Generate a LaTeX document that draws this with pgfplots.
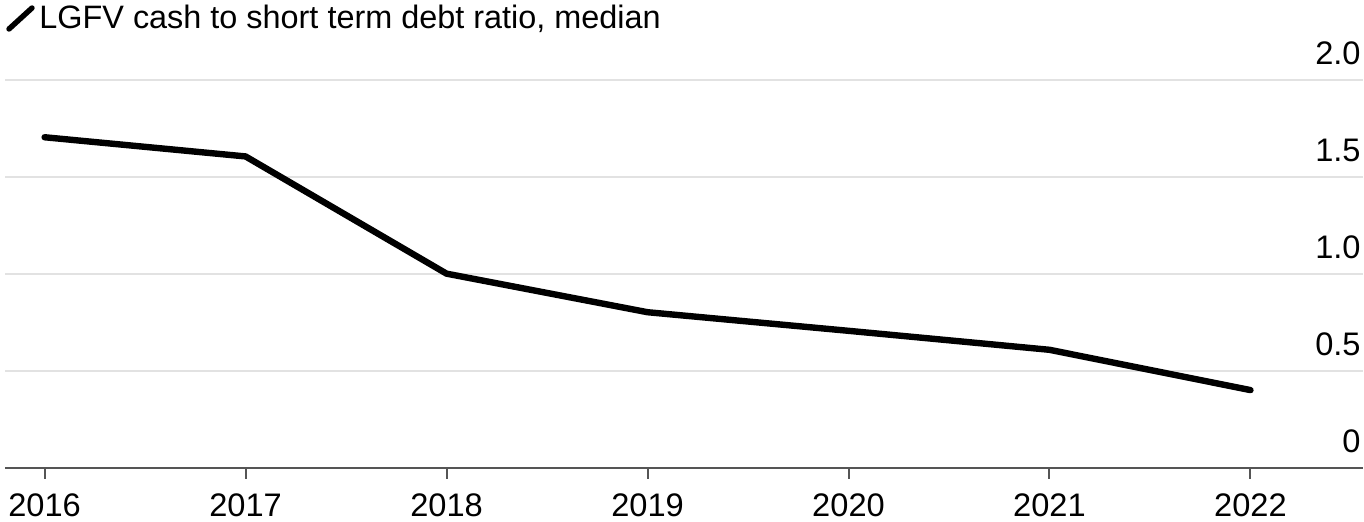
\documentclass[border=0pt]{standalone}
\usepackage{fontspec}
\setmainfont{Liberation Sans}
\usepackage{pgfplots}
\pgfplotsset{compat=1.18}
\definecolor{gridgrey}{HTML}{E2E2E2}
\definecolor{axisgrey}{HTML}{555555}
\begin{document}
\begin{tikzpicture}
\path[use as bounding box] (0,0) rectangle (682pt,261pt);
\begin{axis}[
  at={(2.5pt,27pt)}, anchor=south west,
  scale only axis, width=679pt, height=193.75pt,
  xmin=2015.803, xmax=2022.56, ymin=0, ymax=2,
  axis x line*=bottom, axis y line*=right,
  x axis line style={line width=1pt, color=axisgrey, -},
  y axis line style={draw=none},
  xtick={2016,2017,2018,2019,2020,2021,2022},
  ytick={0,0.5,1,1.5,2},
  yticklabels={0,0.5,1.0,1.5,2.0},
  xticklabel={\pgfmathprintnumber[1000 sep={},fixed]{\tick}},
  x tick style={color=axisgrey, line width=1pt},
  y tick style={draw=none},
  xtick align=outside, major tick length=5.5pt,
  ymajorgrids, grid style={color=gridgrey, line width=1pt},
  ticklabel style={font=\fontsize{16.3}{19}\selectfont, text=black},
  /pgf/number format/assume math mode=true,
  xticklabel style={anchor=north, yshift=-7pt, inner sep=0pt},
  yticklabel style={anchor=south east, inner sep=0pt, xshift=-1pt, yshift=7.5pt},
  clip=false,
]
\addplot[line width=3.2pt, color=black, line cap=round, line join=round] coordinates {
  (2016,1.707) (2017,1.608) (2018,1.003) (2019,0.804) (2020,0.708) (2021,0.610) (2022,0.402)
};
\end{axis}
\draw[line width=2.7pt, line cap=round] (4.5pt,246.5pt) -- (16pt,257pt);
\node[anchor=west, inner sep=0pt, font=\fontsize{16.2}{19}\selectfont] at (19.5pt,251.5pt) {LGFV cash to short term debt ratio, median};
\end{tikzpicture}
\end{document}
